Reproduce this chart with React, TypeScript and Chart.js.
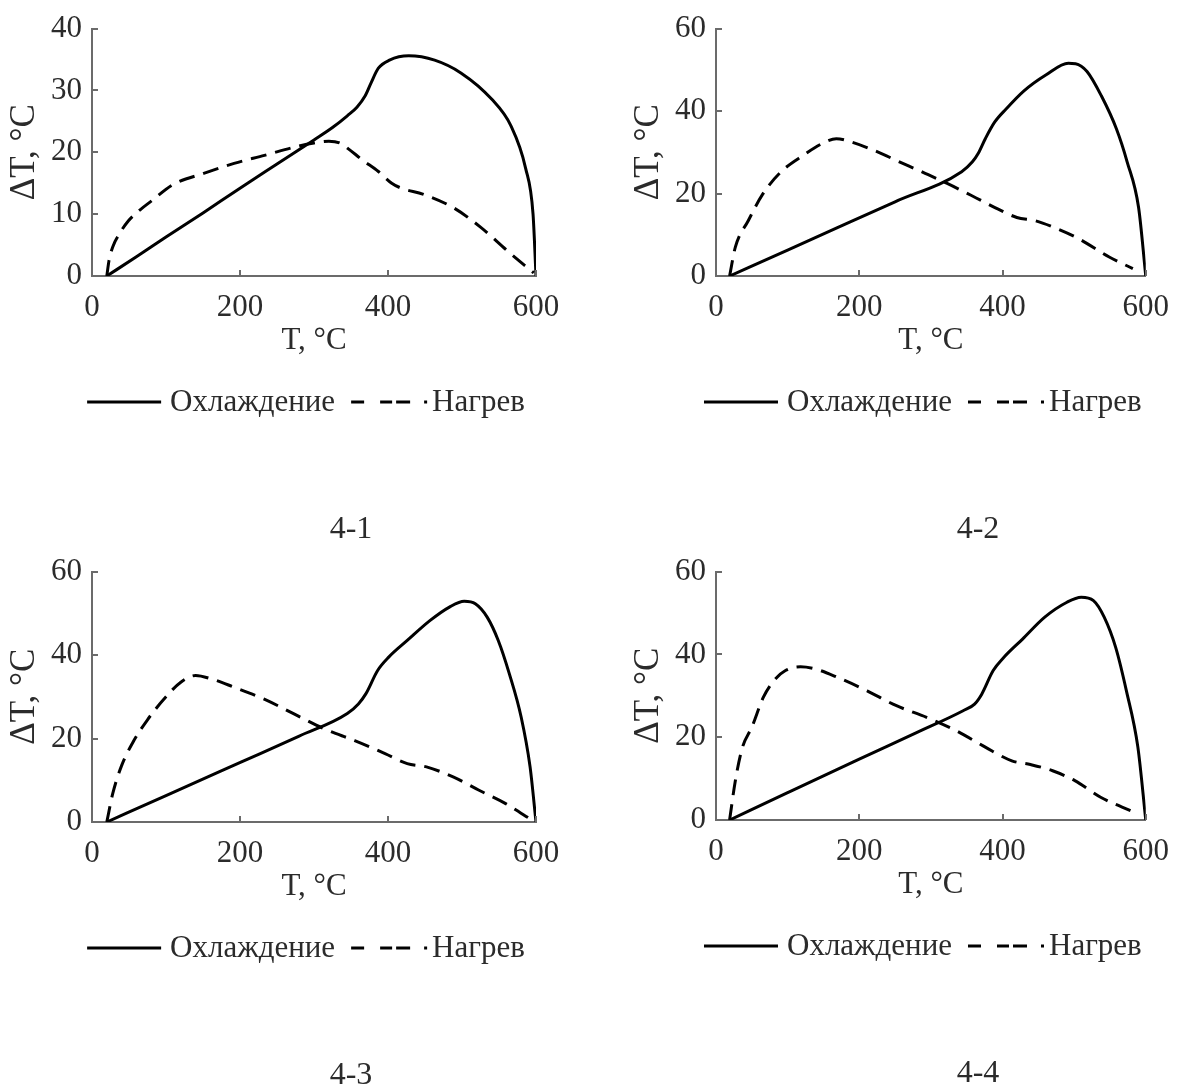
import React, { useEffect, useRef } from "react";
import { Chart, registerables } from "chart.js";

Chart.register(...registerables);

// Shared axis setup
const T_TICKS = [0, 200, 400, 600];
const SERIES_NAMES = ["Охлаждение", "Нагрев"];
const CAPTIONS = ["4-1", "4-2", "4-3", "4-4"];
const Y_MAX = [40, 60, 60, 60];
const Y_STEP = [10, 20, 20, 20];
const X_TITLE = "T, °C";
const Y_TITLE = "ΔT, °C";

// 4-1
const COOL_T_1 = [20, 60, 100, 150, 200, 250, 300, 325, 345, 358, 369, 377, 387, 402, 428, 463, 499, 540, 566, 586, 596, 600];
const COOL_DT_1 = [0, 3.1, 6.3, 10.2, 14.2, 18.1, 22.0, 24.0, 25.9, 27.3, 29.1, 31.2, 33.6, 34.9, 35.6, 34.9, 32.8, 28.6, 24.3, 17.4, 10.0, 0];
const HEAT_T_1 = [20, 23, 28, 38, 49, 65, 80, 110, 151, 192, 233, 279, 300, 320, 335, 346, 365, 387, 405, 418, 448, 489, 525, 561, 597];
const HEAT_DT_1 = [0, 2.5, 4.7, 7.0, 8.9, 10.7, 12.1, 14.8, 16.6, 18.2, 19.5, 21.0, 21.5, 21.8, 21.5, 20.6, 18.8, 16.9, 15.0, 14.2, 13.2, 11.0, 7.9, 4.1, 0.5];

// 4-2
const COOL_T_2 = [19, 100, 168, 250, 343, 358, 366, 376, 389, 405, 430, 461, 492, 502, 518, 538, 559, 574, 590, 600];
const COOL_DT_2 = [0, 6.3, 11.6, 18.0, 25.3, 27.7, 29.7, 33.3, 37.3, 40.5, 44.9, 48.8, 51.6, 51.5, 49.6, 43.7, 35.7, 27.7, 16.6, 0];
const HEAT_T_2 = [19, 27, 45, 65, 91, 122, 148, 168, 189, 220, 256, 292, 322, 358, 394, 420, 446, 477, 507, 549, 582];
const HEAT_DT_2 = [0, 7.0, 13.4, 19.8, 25.3, 29.3, 32.1, 33.3, 32.5, 30.5, 27.7, 24.9, 22.5, 19.4, 16.2, 14.2, 13.4, 11.4, 9.0, 4.6, 1.8];

// 4-3
const COOL_T_3 = [20, 100, 202, 280, 345, 360, 370, 386, 401, 426, 457, 483, 503, 518, 534, 549, 564, 580, 592, 600];
const COOL_DT_3 = [0, 6.3, 14.4, 20.6, 26.0, 28.3, 30.7, 36.3, 39.5, 43.5, 48.3, 51.5, 52.9, 52.3, 49.1, 43.5, 35.5, 25.1, 13.2, 0];
const HEAT_T_3 = [20, 28, 40, 55, 75, 100, 120, 140, 161, 192, 232, 273, 314, 355, 396, 426, 452, 488, 523, 559, 595];
const HEAT_DT_3 = [0, 6.8, 13.5, 19.0, 24.5, 30.0, 33.5, 35.1, 34.3, 32.3, 29.5, 25.9, 22.3, 19.5, 16.4, 14.0, 13.2, 10.8, 7.6, 4.4, 0.4];

// 4-4
const COOL_T_4 = [19, 100, 200, 280, 345, 361, 371, 387, 402, 428, 459, 490, 510, 527, 542, 558, 573, 589, 600];
const COOL_DT_4 = [0, 6.6, 14.7, 21.1, 26.4, 28.0, 30.4, 36.1, 39.3, 43.7, 49.0, 52.6, 53.8, 53.0, 49.0, 41.7, 31.2, 17.6, 0];
const HEAT_T_4 = [19, 27, 37, 50, 66, 81, 97, 118, 138, 169, 211, 252, 294, 335, 376, 413, 439, 470, 501, 537, 582];
const HEAT_DT_4 = [0, 9.5, 17.6, 22.4, 29.6, 33.7, 36.1, 37.0, 36.5, 34.5, 31.2, 27.6, 24.8, 21.6, 17.6, 14.3, 13.4, 11.9, 9.5, 5.5, 2.0];

const SERIES = [
  { coolT: COOL_T_1, coolDT: COOL_DT_1, heatT: HEAT_T_1, heatDT: HEAT_DT_1 },
  { coolT: COOL_T_2, coolDT: COOL_DT_2, heatT: HEAT_T_2, heatDT: HEAT_DT_2 },
  { coolT: COOL_T_3, coolDT: COOL_DT_3, heatT: HEAT_T_3, heatDT: HEAT_DT_3 },
  { coolT: COOL_T_4, coolDT: COOL_DT_4, heatT: HEAT_T_4, heatDT: HEAT_DT_4 },
];

// Page placement of the four panels
const CANVAS_W = 591;
const CANVAS_H = 543;
const LAYOUT = [
  { left: 0, top: 0, pad: { left: 3, right: 55, top: 25, bottom: 180 }, captionX: 351 },
  { left: 591, top: 0, pad: { left: 36, right: 25, top: 25, bottom: 180 }, captionX: 387 },
  { left: 0, top: 543, pad: { left: 3, right: 55, top: 28, bottom: 177 }, captionX: 351 },
  { left: 591, top: 543, pad: { left: 36, right: 28, top: 28, bottom: 179 }, captionX: 387 },
];

const FONT = "'Liberation Serif', 'Times New Roman', serif";
const TEXT_COLOR = "#2b2b2b";
const AXIS_COLOR = "#6b6b6b";
const LINE_COLOR = "#000000";
const HEAT_DASH = [16, 9];

const toPoints = (xs: number[], ys: number[]) => xs.map((x, i) => ({ x, y: ys[i] }));

// Short tick marks pointing into the plot area
const innerTicks = {
  id: "innerTicks",
  afterDraw(chart: any) {
    const { ctx, chartArea, scales } = chart;
    const len = 6;
    ctx.save();
    ctx.strokeStyle = AXIS_COLOR;
    ctx.lineWidth = 2;
    ctx.beginPath();
    scales.x.ticks.forEach((t: any) => {
      if (t.value === scales.x.min) return;
      const px = Math.round(scales.x.getPixelForValue(t.value));
      ctx.moveTo(px, chartArea.bottom);
      ctx.lineTo(px, chartArea.bottom - len);
    });
    scales.y.ticks.forEach((t: any) => {
      if (t.value === scales.y.min) return;
      const py = Math.round(scales.y.getPixelForValue(t.value));
      ctx.moveTo(chartArea.left, py);
      ctx.lineTo(chartArea.left + len, py);
    });
    ctx.stroke();
    ctx.restore();
  },
};

// Legend row under the axis title and the panel caption
const panelLegend = {
  id: "panelLegend",
  afterDraw(chart: any, _args: any, opts: any) {
    const { ctx, chartArea } = chart;
    const ds = chart.data.datasets;
    ctx.save();
    ctx.font = `31px ${FONT}`;
    const w1 = ctx.measureText(ds[0].label).width;
    const w2 = ctx.measureText(ds[1].label).width;
    const solidLen = 74, gapA = 9, gapB = 16, dashLen = 76, gapC = 5;
    const total = solidLen + gapA + w1 + gapB + dashLen + gapC + w2;
    let x = (chartArea.left + chartArea.right) / 2 - 8 - total / 2;
    const y = chartArea.bottom + 126;

    ctx.lineWidth = 3;
    ctx.strokeStyle = ds[0].borderColor;
    ctx.beginPath();
    ctx.moveTo(x, y);
    ctx.lineTo(x + solidLen, y);
    ctx.stroke();
    x += solidLen + gapA;

    ctx.fillStyle = TEXT_COLOR;
    ctx.textAlign = "left";
    ctx.textBaseline = "middle";
    ctx.fillText(ds[0].label, x, y + 1);
    x += w1 + gapB;

    ctx.strokeStyle = ds[1].borderColor;
    ctx.setLineDash([13, 16, 12, 4, 14, 14, 3, 200]);
    ctx.beginPath();
    ctx.moveTo(x, y);
    ctx.lineTo(x + dashLen, y);
    ctx.stroke();
    ctx.setLineDash([]);
    x += dashLen + gapC;
    ctx.fillText(ds[1].label, x, y + 1);

    ctx.font = `32px ${FONT}`;
    ctx.textAlign = "center";
    ctx.textBaseline = "alphabetic";
    ctx.fillText(opts.caption, opts.captionX, chartArea.bottom + 262);
    ctx.restore();
  },
};

function buildConfig(i: number): any {
  const s = SERIES[i];
  const L = LAYOUT[i];
  return {
    type: "line",
    data: {
      datasets: [
        {
          label: SERIES_NAMES[0],
          data: toPoints(s.coolT, s.coolDT),
          borderColor: LINE_COLOR,
          borderWidth: 3,
          pointRadius: 0,
          fill: false,
          cubicInterpolationMode: "monotone",
        },
        {
          label: SERIES_NAMES[1],
          data: toPoints(s.heatT, s.heatDT),
          borderColor: LINE_COLOR,
          borderWidth: 3,
          borderDash: HEAT_DASH,
          pointRadius: 0,
          fill: false,
          cubicInterpolationMode: "monotone",
        },
      ],
    },
    options: {
      responsive: false,
      animation: false,
      events: [],
      layout: { padding: L.pad },
      plugins: {
        legend: { display: false },
        tooltip: { enabled: false },
        title: { display: false },
        panelLegend: { caption: CAPTIONS[i], captionX: L.captionX },
      },
      scales: {
        x: {
          type: "linear",
          min: T_TICKS[0],
          max: T_TICKS[T_TICKS.length - 1],
          afterBuildTicks: (scale: any) => {
            scale.ticks = T_TICKS.map((v) => ({ value: v }));
          },
          afterFit: (scale: any) => {
            scale.height = 87;
          },
          grid: { display: false, drawTicks: false },
          border: { display: true, color: AXIS_COLOR, width: 2 },
          ticks: {
            color: TEXT_COLOR,
            font: { family: FONT, size: 31 },
            padding: 13,
            maxRotation: 0,
          },
          title: {
            display: true,
            text: X_TITLE,
            color: TEXT_COLOR,
            font: { family: FONT, size: 31 },
            padding: { top: 4, bottom: 4 },
          },
        },
        y: {
          type: "linear",
          min: 0,
          max: Y_MAX[i],
          ticks: {
            stepSize: Y_STEP[i],
            color: TEXT_COLOR,
            font: { family: FONT, size: 31 },
            padding: 10,
          },
          afterFit: (scale: any) => {
            scale.width = 89;
          },
          grid: { display: false, drawTicks: false },
          border: { display: true, color: AXIS_COLOR, width: 2 },
          title: {
            display: true,
            text: Y_TITLE,
            color: TEXT_COLOR,
            font: { family: FONT, size: 35 },
            padding: { top: 1, bottom: 4 },
          },
        },
      },
    },
    plugins: [innerTicks, panelLegend],
  };
}

function Panel({ index }: { index: number }) {
  const ref = useRef<HTMLCanvasElement>(null);
  useEffect(() => {
    if (!ref.current) return;
    const chart = new Chart(ref.current, buildConfig(index));
    return () => chart.destroy();
  }, [index]);
  const L = LAYOUT[index];
  return (
    <canvas
      ref={ref}
      width={CANVAS_W}
      height={CANVAS_H}
      style={{ position: "absolute", left: L.left, top: L.top, width: CANVAS_W, height: CANVAS_H, display: "block" }}
    />
  );
}

export default function App() {
  return (
    <div
      style={{
        position: "absolute",
        left: 0,
        top: 0,
        width: 1182,
        height: 1086,
        background: "#ffffff",
        overflow: "hidden",
      }}
    >
      {[0, 1, 2, 3].map((i) => (
        <Panel key={i} index={i} />
      ))}
    </div>
  );
}
